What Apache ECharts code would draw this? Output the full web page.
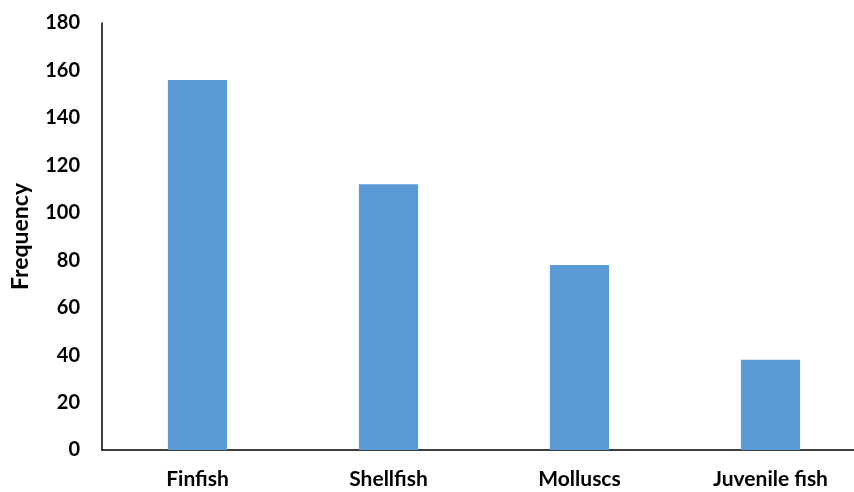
<!DOCTYPE html>
<html>
<head>
<meta charset="utf-8">
<script src="https://cdn.jsdelivr.net/npm/echarts@6/dist/echarts.min.js"></script>
<style>
  html, body { margin: 0; padding: 0; background: #fff; }
  #chart { width: 854px; height: 492px; }
</style>
</head>
<body>
<div id="chart"></div>
<script>
var categories = ["Finfish", "Shellfish", "Molluscs", "Juvenile fish"];
var frequency = [156, 112, 78, 38];
var yTicks = { min: 0, max: 180, interval: 20 };

var chart = echarts.init(document.getElementById("chart"));

chart.setOption({
  animation: false,
  grid: { left: 102, width: 764, top: 23, bottom: 42, containLabel: false, outerBoundsMode: "none" },
  xAxis: {
    type: "category",
    data: categories,
    axisLine: { lineStyle: { color: "#000", width: 1.5 } },
    axisTick: { show: false },
    axisLabel: { margin: 19, fontFamily: "Lato", fontWeight: "bold", fontSize: 21, color: "#000" }
  },
  yAxis: {
    type: "value",
    min: yTicks.min,
    max: yTicks.max,
    interval: yTicks.interval,
    name: "Frequency",
    nameLocation: "middle",
    nameGap: 70,
    nameTextStyle: { fontFamily: "Lato", fontWeight: "bold", fontSize: 23, color: "#000" },
    axisLine: { show: true, lineStyle: { color: "#000", width: 1.5 } },
    axisTick: { show: false },
    splitLine: { show: false },
    axisLabel: { margin: 22, fontFamily: "Lato", fontWeight: "bold", fontSize: 20, color: "#000" }
  },
  series: [{
    type: "bar",
    data: frequency,
    barWidth: "31%",
    itemStyle: { color: "#5B9BD5" }
  }]
});
</script>
</body>
</html>
